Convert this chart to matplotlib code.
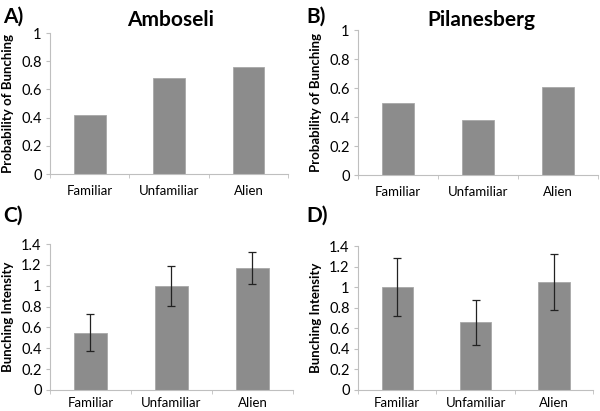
import numpy as np
import matplotlib
matplotlib.use("Agg")
from matplotlib import pyplot

pyplot.rcParams['font.family'] = ['Lato', 'DejaVu Sans']

categories = ["Familiar", "Unfamiliar", "Alien"]

# probability of bunching (top row)
prob_amboseli = [0.42, 0.68, 0.76]
prob_pilanesberg = [0.50, 0.38, 0.61]

# bunching intensity (bottom row), with error bar ends
int_amboseli = [0.55, 1.00, 1.17]
int_amboseli_lo = [0.37, 0.81, 1.02]
int_amboseli_hi = [0.73, 1.19, 1.32]
int_pilanesberg = [1.00, 0.66, 1.05]
int_pilanesberg_lo = [0.72, 0.44, 0.78]
int_pilanesberg_hi = [1.28, 0.88, 1.32]

bar_color = "#8c8c8c"
axis_color = "#bfbfbf"


def style_axis(ax, ymax, step, xpad):
    x = np.arange(len(categories))
    ticks = np.round(np.arange(0, ymax + step / 2, step), 1)
    ax.set_xlim(-0.5, len(categories) - 0.5)
    ax.set_ylim(0, ymax)
    ax.set_yticks(ticks)
    ax.set_yticklabels(["%g" % v for v in ticks])
    ax.set_xticks(x)
    ax.set_xticklabels(categories, fontsize=9.5)
    ax.tick_params(axis='x', length=0, pad=xpad)
    ax.tick_params(axis='y', length=3, color=axis_color, labelsize=10.5, pad=3)
    # category boundary ticks on the bottom axis
    ax.set_xticks(np.arange(-0.5, len(categories), 1), minor=True)
    ax.tick_params(axis='x', which='minor', length=3, color=axis_color, direction='out')
    for side in ["top", "right"]:
        ax.spines[side].set_visible(False)
    for side in ["left", "bottom"]:
        ax.spines[side].set_color(axis_color)
        ax.spines[side].set_linewidth(0.8)


fig = pyplot.figure(figsize=(6, 4.11), dpi=100)

ax_a = fig.add_axes([0.0833, 0.5766, 0.397, 0.343])
ax_b = fig.add_axes([0.5967, 0.574, 0.40, 0.353])
ax_c = fig.add_axes([0.0833, 0.0511, 0.405, 0.355])
ax_d = fig.add_axes([0.5967, 0.0511, 0.392, 0.350])

x = np.arange(len(categories))

for ax, vals in [(ax_a, prob_amboseli), (ax_b, prob_pilanesberg)]:
    ax.bar(x, vals, width=0.4, color=bar_color, edgecolor="#a8a8a8", linewidth=0.6)
    style_axis(ax, 1.0, 0.2, 8)
    ax.set_ylabel("Probability of Bunching", fontsize=9.5, fontweight='bold', labelpad=5)

for ax, vals, lo, hi in [(ax_c, int_amboseli, int_amboseli_lo, int_amboseli_hi),
                         (ax_d, int_pilanesberg, int_pilanesberg_lo, int_pilanesberg_hi)]:
    vals = np.array(vals)
    yerr = [vals - np.array(lo), np.array(hi) - vals]
    ax.bar(x, vals, width=0.4, color=bar_color, edgecolor="#a8a8a8", linewidth=0.6)
    ax.errorbar(x, vals, yerr=yerr, fmt='none', ecolor="#222222", elinewidth=0.9, capsize=3, capthick=0.9)
    style_axis(ax, 1.4, 0.2, 5)
    ax.set_ylabel("Bunching Intensity", fontsize=9.5, fontweight='bold', labelpad=5)

fig.text(0.005, 0.985, "A)", fontsize=15, fontweight='bold', va='top', ha='left')
fig.text(0.51, 0.985, "B)", fontsize=15, fontweight='bold', va='top', ha='left')
fig.text(0.005, 0.50, "C)", fontsize=15, fontweight='bold', va='top', ha='left')
fig.text(0.51, 0.50, "D)", fontsize=15, fontweight='bold', va='top', ha='left')
fig.text(0.285, 0.975, "Amboseli", fontsize=15, fontweight='bold', va='top', ha='center')
fig.text(0.803, 0.975, "Pilanesberg", fontsize=15, fontweight='bold', va='top', ha='center')

pyplot.savefig("out.png", dpi=100)
